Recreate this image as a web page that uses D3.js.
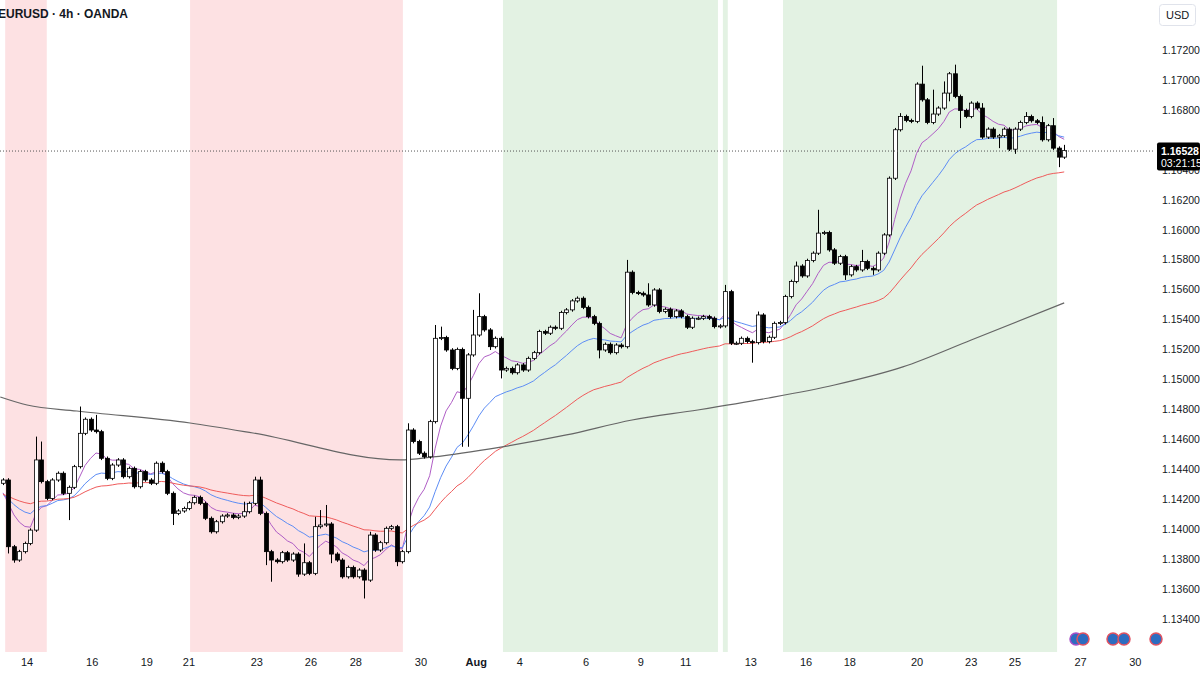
<!DOCTYPE html>
<html>
<head>
<meta charset="utf-8">
<script src="https://cdn.jsdelivr.net/npm/d3@7"></script>
<style>
body{margin:0;background:#fff;font-family:"Liberation Sans",Arial,sans-serif;}
</style>
</head>
<body>
<script>
// 4h closes (open = previous close)
var closes = [
 1.14326,1.13880,1.13791,1.13847,1.13902,1.13991,1.14460,1.14315,1.14203,1.14326,
 1.14371,1.14237,1.14277,1.14415,1.14638,1.14732,1.14660,1.14649,1.14471,1.14337,
 1.14426,1.14460,1.14348,1.14404,1.14281,1.14382,1.14326,1.14304,1.14438,1.14382,
 1.14237,1.14103,1.14119,1.14136,1.14174,1.14210,1.14170,1.14070,1.13980,1.14047,
 1.14085,1.14092,1.14076,1.14085,1.14114,1.14170,1.14326,1.14103,1.13847,1.13791,
 1.13780,1.13840,1.13791,1.13831,1.13697,1.13773,1.13702,1.14014,1.14025,1.14032,
 1.13831,1.13791,1.13679,1.13742,1.13679,1.13724,1.13657,1.13958,1.13858,1.13907,
 1.14003,1.14014,1.13780,1.13847,1.14660,1.14583,1.14505,
 1.14481,1.14716,1.15273,1.15278,1.15195,1.15072,1.15199,1.14872,1.15162,1.15295,
 1.15418,1.15329,1.15217,1.15273,1.15061,1.15072,1.15043,1.15095,1.15061,1.15139,
 1.15177,1.15318,1.15307,1.15347,1.15340,1.15445,1.15463,1.15523,1.15541,1.15480,
 1.15418,1.15373,1.15195,1.15233,1.15177,1.15228,1.15217,1.15715,1.15579,1.15574,
 1.15563,1.15496,1.15596,1.15452,1.15467,1.15418,1.15456,1.15418,1.15347,1.15407,
 1.15407,1.15418,1.15407,1.15351,1.15356,1.15585,1.15240,1.15240,1.15273,1.15251,
 1.15244,1.15429,1.15251,1.15280,1.15373,1.15378,1.15552,1.15653,1.15756,
 1.15690,1.15793,1.15842,1.15976,1.15980,1.15864,1.15775,1.15819,1.15697,1.15752,
 1.15730,1.15786,1.15741,1.15730,1.15842,1.15964,1.16343,1.16667,1.16756,1.16729,
 1.16723,1.16972,1.16867,1.16716,1.16772,1.16812,1.16912,1.17041,1.16890,1.16796,
 1.16756,1.16845,1.16812,1.16618,1.16671,1.16618,1.16627,1.16671,1.16537,1.16671,
 1.16716,1.16756,1.16727,1.16716,1.16600,1.16694,1.16544,1.16484,1.16528
];
var firstOpen = 1.14304;
// notable wick extremes [candle, price]
var highWicks = [[6,1.14616],[7,1.14583],[14,1.14817],[17,1.14761],[18,1.14594],[44,1.14181],[46,1.14348],[47,1.14348],
 [55,1.13902],[57,1.14080],[58,1.14125],[59,1.14159],[67,1.13980],[74,1.14705],[75,1.14672],
 [79,1.15362],[80,1.15351],[86,1.15463],[87,1.15574],[114,1.15797],[118,1.15641],[132,1.15630],[138,1.15452],[145,1.15786],
 [149,1.16132],[157,1.15864],[164,1.16778],[168,1.17095],[170,1.16935],[172,1.16990],[174,1.17102],[179,1.16845],
 [187,1.16785],[190,1.16756],[192,1.16745],[194,1.16566]];
var lowWicks = [[1,1.13835],[2,1.13773],[12,1.14058],[31,1.14025],[48,1.13757],[49,1.13646],[54,1.13679],[57,1.13880],
 [60,1.13770],[66,1.13534],[72,1.13750],[84,1.14548],[85,1.14548],[89,1.15195],[91,1.15005],[109,1.15139],[137,1.15110],
 [154,1.15663],[159,1.15697],[173,1.16857],[175,1.16678],[182,1.16544],[185,1.16506],[193,1.16417]];
// slow average (grey), read at points [candle, price]
var slowLine = [[-0.5,1.14881],[4.4,1.14827],[13.5,1.14787],[34.2,1.14707],[45.7,1.14640],[72.6,1.14460],[78.6,1.14480],
 [91,1.14546],[103,1.14627],[115,1.14727],[127,1.14794],[140,1.14874],[152,1.14961],[164.5,1.15082],[177,1.15262],[194,1.15510]];
var maSeeds = [1.1424,1.1423,1.1423]; // purple, blue, red at first candle
var maLengths = [9,21,50];
var priceTicks = [1.134,1.136,1.138,1.140,1.142,1.144,1.146,1.148,1.150,1.152,1.154,1.156,1.158,1.160,1.162,1.164,1.166,1.168,1.170,1.172];
var dateTicks = [["14",4.4],["16",16.3],["19",26.3],["21",34],["23",46.4],["26",56.3],["28",64.5],["30",76.4],["Aug",86.5],
 ["4",94.5],["6",106.6],["9",116.6],["11",124.8],["13",136.7],["16",146.8],["18",154.8],["20",167.1],["23",177],["25",185],["27",197],["30",207]];
var redBands = [[0.4,8.0],[34.2,73.1]];
var greenBands = [[91.4,130.7],[131.6,132.5],[142.6,192.7]];
var lastPrice = 1.16528, countdown = "03:21:15";

var W=1200,H=675, plotR=1155, plotB=652;
var svg = d3.select("body").append("svg").attr("width",W).attr("height",H);
var x = d3.scaleLinear().domain([-0.55,210.6]).range([0,plotR]);
var y = d3.scaleLinear().domain([1.146,1.172]).range([439,50]);

svg.selectAll(".rb").data(redBands).enter().append("rect")
  .attr("x",d=>x(d[0])).attr("width",d=>x(d[1])-x(d[0])).attr("y",0).attr("height",plotB).attr("fill","#fde1e3");
svg.selectAll(".gb").data(greenBands).enter().append("rect")
  .attr("x",d=>x(d[0])).attr("width",d=>x(d[1])-x(d[0])).attr("y",0).attr("height",plotB).attr("fill","#e3f2e3");

// candles
var candles = closes.map(function(c,i){
  var o = i==0 ? firstOpen : closes[i-1];
  return {i:i,o:o,c:c,h:Math.max(o,c)+0.00012,l:Math.min(o,c)-0.00012};
});
highWicks.forEach(function(w){ candles[w[0]].h=Math.max(candles[w[0]].h,w[1]); });
lowWicks.forEach(function(w){ candles[w[0]].l=Math.min(candles[w[0]].l,w[1]); });

// moving averages
var maColors = ["#b05ec6","#5d8df5","#ef5b5b"];
maLengths.forEach(function(n,k){
  var a=2/(n+1), v=maSeeds[k], pts=[];
  closes.forEach(function(c,i){ v = i==0 ? v : v + a*(c-v); pts.push([i,v]); });
  svg.append("path").datum(pts).attr("fill","none").attr("stroke",maColors[k]).attr("stroke-width",1)
    .attr("d",d3.line().x(d=>x(d[0])).y(d=>y(d[1])));
});
svg.append("path").datum(slowLine).attr("fill","none").attr("stroke","#666").attr("stroke-width",1.2)
  .attr("d",d3.line().curve(d3.curveMonotoneX).x(d=>x(d[0])).y(d=>y(d[1])));

var g = svg.append("g");
g.selectAll("line").data(candles).enter().append("line")
  .attr("x1",d=>Math.round(x(d.i))+0.5).attr("x2",d=>Math.round(x(d.i))+0.5)
  .attr("y1",d=>y(d.h)).attr("y2",d=>y(d.l)).attr("stroke","#000");
g.selectAll("rect").data(candles).enter().append("rect")
  .attr("x",d=>Math.round(x(d.i))-1.5).attr("width",4)
  .attr("y",d=>y(Math.max(d.o,d.c))).attr("height",d=>Math.max(1,Math.abs(y(d.o)-y(d.c))))
  .attr("fill",d=>d.c>=d.o?"#fff":"#000").attr("stroke","#000").attr("stroke-width",0.8);

// last price line
svg.append("line").attr("x1",0).attr("x2",plotR).attr("y1",y(lastPrice)+0.5).attr("y2",y(lastPrice)+0.5)
  .attr("stroke","#555").attr("stroke-dasharray","1,2");

// price axis
svg.selectAll(".pt").data(priceTicks.filter(d=>Math.abs(y(d)-y(lastPrice))>16)).enter().append("text")
  .attr("x",1162).attr("y",d=>y(d)+4).text(d=>d.toFixed(5))
  .attr("font-size",10.5).attr("fill","#131722");
svg.append("rect").attr("x",1157).attr("y",y(lastPrice)-8).attr("width",43).attr("height",28).attr("fill","#000").attr("rx",2);
svg.append("text").attr("x",1161).attr("y",y(lastPrice)+4).text(lastPrice.toFixed(5)).attr("font-size",10.5).attr("font-weight","bold").attr("fill","#fff");
svg.append("text").attr("x",1161).attr("y",y(lastPrice)+16).text(countdown).attr("font-size",10.5).attr("fill","#fff");
svg.append("rect").attr("x",1159.5).attr("y",4.5).attr("width",36).attr("height",21).attr("rx",3).attr("fill","#fff").attr("stroke","#e0e3eb");
svg.append("text").attr("x",1166).attr("y",19).text("USD").attr("font-size",11).attr("fill","#131722");

// date axis
svg.selectAll(".dt").data(dateTicks).enter().append("text")
  .attr("x",d=>x(d[1])).attr("y",666).attr("text-anchor","middle").text(d=>d[0])
  .attr("font-size",11).attr("fill","#131722").attr("font-weight",d=>d[0]=="Aug"?"bold":"normal");

// event markers
[[1076,"#a64fc7"],[1083,"#e05260"],[1113,"#e05260"],[1124,"#e05260"],[1156,"#e05260"]].forEach(function(m){
  svg.append("circle").attr("cx",m[0]).attr("cy",639).attr("r",6).attr("fill","#2d6cc0").attr("stroke",m[1]).attr("stroke-width",1.5);
});

svg.append("text").attr("x",-2).attr("y",18).text("EURUSD · 4h · OANDA")
  .attr("font-size",12).attr("font-weight","bold").attr("fill","#131722");
</script>
</body>
</html>
